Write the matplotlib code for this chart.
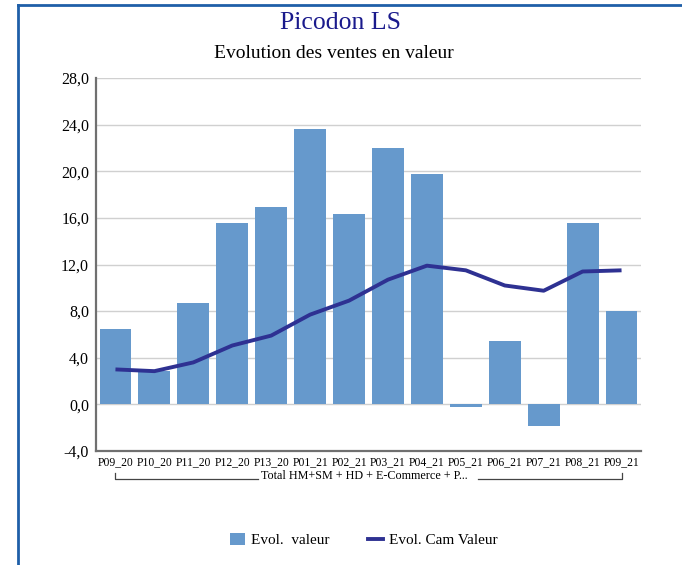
import matplotlib.pyplot as plt
from matplotlib.lines import Line2D
from matplotlib.patches import Patch

# Data
periods = ['P09_20', 'P10_20', 'P11_20', 'P12_20', 'P13_20', 'P01_21', 'P02_21',
           'P03_21', 'P04_21', 'P05_21', 'P06_21', 'P07_21', 'P08_21', 'P09_21']
evol_valeur = [6.5, 2.85, 8.7, 15.55, 16.9, 23.6, 16.3, 22.0, 19.8, -0.2, 5.4, -1.85, 15.55, 8.0]
evol_cam = [3.0, 2.85, 3.6, 5.05, 5.9, 7.7, 8.9, 10.7, 11.9, 11.5, 10.2, 9.75, 11.4, 11.5]
y_ticks = [-4, 0, 4, 8, 12, 16, 20, 24, 28]
group_label = 'Total HM+SM + HD + E-Commerce + P...'

plt.rcParams['font.family'] = ['Liberation Serif', 'DejaVu Serif']

W, H = 682, 565
fig = plt.figure(figsize=(W / 100, H / 100), dpi=100)
ax = fig.add_axes([96 / W, 1 - 451 / H, (641 - 96) / W, (451 - 78) / H])

x = range(len(periods))
ax.bar(x, evol_valeur, width=0.82, color='#6699cc', zorder=2)
ax.plot(x, evol_cam, color='#2e3192', linewidth=2.8, zorder=3, solid_capstyle='butt')

ax.set_xlim(-0.5, len(periods) - 0.5)
ax.set_ylim(-4, 28)
ax.set_yticks(y_ticks)
ax.set_yticklabels([f'{v:.1f}'.replace('.', ',') for v in y_ticks], fontsize=11.5)
ax.set_xticks(list(x))
ax.set_xticklabels(periods, fontsize=8.4)
ax.tick_params(axis='both', length=0, pad=5)
ax.tick_params(axis='x', pad=4)

ax.grid(axis='y', color='#d0d0d0', linewidth=1, zorder=0)
ax.set_axisbelow(True)
for s in ['top', 'right']:
    ax.spines[s].set_visible(False)
ax.spines['left'].set_color('#707070')
ax.spines['left'].set_linewidth(1.6)
ax.spines['bottom'].set_color('#707070')
ax.spines['bottom'].set_linewidth(1.6)

# group bracket under the category labels
by = 1 - 479 / H
tick_h = 6 / H
fig.add_artist(Line2D([115 / W, 115 / W, 258 / W], [by + tick_h, by, by], color='#444444', linewidth=0.9))
fig.add_artist(Line2D([478 / W, 622 / W, 622 / W], [by, by, by + tick_h], color='#444444', linewidth=0.9))
fig.text(364 / W, 1 - 476 / H, group_label, ha='center', va='center', fontsize=8.7)

# titles
fig.text(341 / W, 1 - 23 / H, 'Picodon LS', ha='center', va='center', fontsize=18.5, color='#1a1a8c')
fig.text(334 / W, 1 - 54 / H, 'Evolution des ventes en valeur', ha='center', va='center', fontsize=14)

# legend
handles = [Patch(facecolor='#6699cc', edgecolor='none', label='Evol.  valeur'),
           Line2D([0], [0], color='#2e3192', linewidth=2.8, label='Evol. Cam Valeur')]
fig.legend(handles=handles, loc='center', bbox_to_anchor=(364 / W, 1 - 540 / H), ncol=2,
           frameon=False, fontsize=11, handlelength=1.0, handleheight=0.9,
           columnspacing=2.5, handletextpad=0.4)

# blue frame
fig.add_artist(Line2D([18 / W, 18 / W], [0, 1 - 5 / H], color='#1f5fa8', linewidth=2))
fig.add_artist(Line2D([18 / W, 1], [1 - 5 / H, 1 - 5 / H], color='#1f5fa8', linewidth=2))

fig.savefig('out.png', dpi=100)
